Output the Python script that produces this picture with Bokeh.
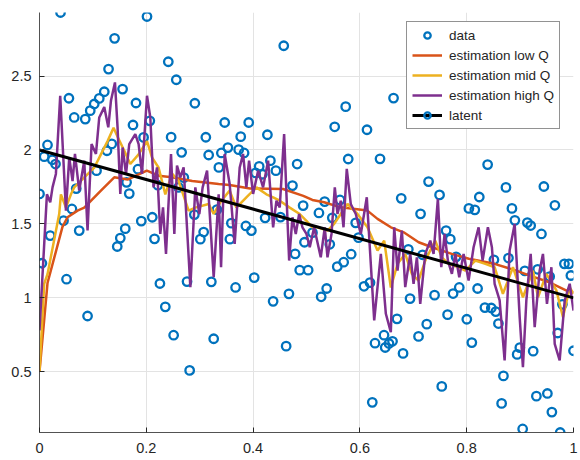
from bokeh.plotting import figure
from bokeh.models import Range1d, FixedTicker, Legend, LegendItem
from bokeh.embed import file_html
from bokeh.resources import INLINE

# ---------------- data ----------------
data_x = [
    0.000, 0.0045, 0.0088, 0.015, 0.020, 0.024, 0.030, 0.0394, 0.045, 0.0506,
    0.0551, 0.0607, 0.065, 0.0688, 0.0744, 0.0857, 0.090, 0.095, 0.1025, 0.1068,
    0.1119, 0.1213, 0.1263, 0.1293, 0.1353, 0.1406, 0.1456, 0.1513, 0.1556, 0.1606,
    0.1631, 0.1681, 0.1751, 0.1807, 0.1844, 0.1906, 0.1949, 0.2013, 0.2066, 0.2112,
    0.2154, 0.2216, 0.2255, 0.2356, 0.2412, 0.2465, 0.2512, 0.2562, 0.2605, 0.2662,
    0.2703, 0.2763, 0.2812, 0.290, 0.2909, 0.3012, 0.3074, 0.3115, 0.3168, 0.3218,
    0.3262, 0.3322, 0.3359, 0.3406, 0.3468, 0.3528, 0.3565, 0.3593, 0.3672, 0.3730,
    0.3768, 0.3831, 0.3865, 0.3918, 0.3968, 0.4021, 0.4047, 0.4114, 0.4174, 0.4225,
    0.4268, 0.4324, 0.4375, 0.4427, 0.4512, 0.4574, 0.4619, 0.4671, 0.4737, 0.4787,
    0.4825, 0.4873, 0.4937, 0.4962, 0.5031, 0.5112, 0.5233, 0.5275, 0.5340, 0.5378,
    0.5436, 0.5483, 0.5528, 0.5576, 0.5627, 0.5696, 0.5734, 0.5781, 0.5837, 0.5921,
    0.5974, 0.6077, 0.6133, 0.6189, 0.6232, 0.6283, 0.6377, 0.6452, 0.6474, 0.6545,
    0.6611, 0.6630, 0.6695, 0.6774, 0.6808, 0.6907, 0.6939, 0.7098, 0.7136, 0.7173,
    0.7252, 0.7286, 0.7398, 0.7492, 0.7533, 0.7614, 0.7642, 0.7693, 0.7745, 0.7801,
    0.7861, 0.8002, 0.8041, 0.8096, 0.8152, 0.8204, 0.8236, 0.8341, 0.8392, 0.8461,
    0.8510, 0.8545, 0.8594, 0.8654, 0.8688, 0.8735, 0.8782, 0.8847, 0.8902, 0.8945,
    0.8995, 0.9048, 0.9089, 0.9136, 0.9198, 0.9245, 0.9305, 0.9329, 0.9400, 0.9445,
    0.9511, 0.9554, 0.9595, 0.9651, 0.9704, 0.9751, 0.9792, 0.9830, 0.9914, 0.9951,
    1.000,
]
data_y = [
    1.703, 1.234, 1.955, 2.034, 1.421, 1.934, 1.905, 2.930, 1.522, 1.126,
    2.350, 1.601, 2.220, 1.739, 1.455, 2.209, 0.877, 2.266, 2.311, 1.860,
    2.349, 2.394, 1.995, 2.547, 2.041, 2.755, 1.347, 1.404, 2.412, 1.468,
    1.781, 1.705, 2.169, 2.318, 1.870, 1.519, 2.085, 2.903, 2.197, 1.545,
    1.399, 1.762, 1.097, 0.939, 2.597, 2.087, 0.747, 2.475, 1.747, 1.984,
    1.813, 1.110, 0.509, 1.563, 2.316, 1.397, 1.445, 2.086, 1.966, 1.108,
    0.723, 1.597, 1.882, 1.980, 2.186, 2.016, 1.397, 1.505, 1.070, 2.002,
    2.090, 1.980, 1.486, 2.186, 1.455, 1.137, 1.845, 1.889, 1.836, 1.541,
    2.103, 1.928, 0.976, 1.860, 1.546, 2.705, 0.673, 1.027, 1.759, 1.297,
    1.905, 1.187, 1.624, 1.376, 1.187, 1.441, 1.574, 1.007, 1.651, 1.063,
    1.362, 1.541, 2.157, 1.211, 1.662, 1.241, 2.293, 1.939, 1.295, 1.507,
    1.407, 1.078, 2.137, 1.103, 0.293, 0.693, 1.940, 0.747, 0.664, 0.691,
    0.706, 2.351, 0.858, 1.673, 0.624, 1.328, 0.995, 0.739, 1.568, 1.291,
    0.822, 1.786, 1.018, 1.696, 0.401, 1.455, 0.886, 1.397, 1.029, 1.277,
    1.070, 0.855, 1.605, 0.697, 1.595, 1.063, 1.682, 0.934, 1.901, 0.931,
    1.257, 0.907, 0.826, 0.286, 0.472, 1.747, 1.269, 1.605, 1.524, 0.617,
    0.663, 0.113, 1.182, 1.509, 1.489, 0.639, 0.335, 1.193, 1.432, 1.753,
    0.353, 1.144, 0.227, 1.626, 0.762, 0.089, 0.956, 1.230, 1.230, 1.151,
    0.642,
]

low_x = [0.0, 0.015, 0.043, 0.0525, 0.0712, 0.0838, 0.115, 0.14, 0.165, 0.201,
         0.223, 0.248, 0.286, 0.3355, 0.356, 0.394, 0.456, 0.494, 0.511, 0.533,
         0.564, 0.614, 0.633, 0.658, 0.682, 0.710, 0.735, 0.772, 0.804, 0.852,
         0.893, 0.918, 0.955, 0.987, 1.0]
low_y = [0.5, 1.10, 1.48, 1.545, 1.59, 1.61, 1.725, 1.815, 1.80, 1.86,
         1.826, 1.815, 1.79, 1.77, 1.763, 1.74, 1.736, 1.69, 1.662, 1.646,
         1.612, 1.59, 1.534, 1.477, 1.443, 1.376, 1.342, 1.297, 1.264, 1.23,
         1.184, 1.15, 1.105, 1.049, 1.038]

mid_x = [0.0, 0.0088, 0.015, 0.0369, 0.0401, 0.0495, 0.0589, 0.065, 0.1025, 0.115,
         0.1275, 0.1387, 0.1462, 0.1588, 0.170, 0.1856, 0.2013, 0.2107, 0.2231, 0.2356,
         0.2482, 0.2605, 0.2793, 0.2918, 0.3168, 0.3262, 0.3406, 0.3561, 0.3687, 0.3874,
         0.4062, 0.4249, 0.4375, 0.4499, 0.4686, 0.4873, 0.4999, 0.5112, 0.5205, 0.5393,
         0.5518, 0.5642, 0.5768, 0.5955, 0.6142, 0.633, 0.6455, 0.6579, 0.6705, 0.6849,
         0.6973, 0.7098, 0.7224, 0.7411, 0.7535, 0.7661, 0.7848, 0.7974, 0.8161, 0.8349,
         0.8523, 0.8678, 0.8866, 0.9053, 0.9241, 0.9335, 0.9492, 0.968, 0.9803, 0.9929,
         1.0]
mid_y = [0.5, 1.095, 1.16, 1.567, 1.70, 1.61, 1.70, 1.747, 1.88, 1.97,
         2.06, 2.15, 2.09, 1.995, 1.905, 1.97, 2.06, 1.95, 1.88, 1.70,
         1.84, 1.79, 1.59, 1.61, 1.635, 1.567, 1.657, 1.725, 1.61, 1.68,
         1.747, 1.70, 1.68, 1.657, 1.61, 1.567, 1.52, 1.477, 1.477, 1.455,
         1.50, 1.567, 1.635, 1.567, 1.477, 1.32, 1.387, 1.07, 1.23, 1.297,
         1.162, 1.117, 1.252, 1.387, 1.274, 1.23, 1.207, 1.184, 1.252, 1.23,
         1.207, 1.027, 1.207, 1.004, 1.184, 1.004, 1.162, 1.05, 0.869, 1.07,
         1.027]

high_x = [0.0, 0.0139, 0.0201, 0.0244, 0.0307, 0.0388, 0.0495, 0.0557, 0.0619, 0.0664,
          0.0744, 0.0838, 0.090, 0.0975, 0.1057, 0.1119, 0.1213, 0.1288, 0.1338, 0.1413,
          0.1462, 0.1513, 0.1556, 0.162, 0.1681,
          0.1794, 0.1856, 0.1919, 0.2013, 0.2075, 0.2137, 0.2201, 0.2262, 0.2313, 0.2369,
          0.2463, 0.2525, 0.2575, 0.2637, 0.2699, 0.2825, 0.2918, 0.2993, 0.3055, 0.3138,
          0.3262, 0.3355,
          0.3400, 0.3468, 0.3561, 0.3655, 0.3749, 0.3812, 0.3874, 0.3925, 0.40, 0.4094,
          0.4187, 0.4281, 0.4375, 0.4437, 0.4499, 0.4581, 0.4624, 0.4675, 0.4737, 0.4799,
          0.4862, 0.4924, 0.4999, 0.5061,
          0.5143, 0.5267, 0.5342, 0.5393, 0.5468, 0.553, 0.558, 0.5642, 0.5693, 0.5754,
          0.5829, 0.5923, 0.6017, 0.6129, 0.6268, 0.6392, 0.6486, 0.6579, 0.6643, 0.6705,
          0.6786,
          0.6849, 0.6943, 0.7005, 0.7067, 0.7130, 0.7224, 0.7318, 0.738, 0.746, 0.7524,
          0.7586, 0.7648, 0.7723, 0.7786, 0.7861, 0.7942, 0.8036, 0.8129, 0.8223, 0.8298,
          0.8397, 0.8472,
          0.8523, 0.8617, 0.871, 0.8804, 0.8898, 0.8992, 0.9053, 0.9117, 0.9198, 0.9273,
          0.9366, 0.9428, 0.9503, 0.9586, 0.9648, 0.9741, 0.9835, 0.9929, 1.0]
high_y = [0.78, 1.70, 1.646, 1.747, 1.838, 2.367, 1.59, 1.95, 1.79, 1.973,
          1.725, 1.928, 1.455, 2.04, 1.973, 2.22, 2.29, 2.153, 2.333, 2.457,
          2.153, 1.703, 2.017, 1.838, 2.04,
          2.108, 2.04, 1.838, 2.367, 2.22, 1.747, 1.882, 1.432, 1.612, 1.297,
          1.973, 1.432, 1.894, 1.815, 1.882, 1.072, 1.747, 1.567, 1.747, 1.86,
          1.139, 1.70,
          1.207, 1.973, 1.77, 1.365, 1.882, 1.973, 1.747, 1.928, 1.703, 1.86,
          1.747, 1.928, 1.477, 1.657, 1.612, 2.108, 1.703, 1.252, 1.545, 1.432,
          1.567, 1.477, 1.432, 1.342,
          1.477, 1.274, 1.477, 1.274, 1.432, 1.747, 1.567, 1.657, 1.477, 1.872,
          1.635, 1.567, 1.432, 1.68, 0.847, 1.297, 0.892, 0.768, 1.477, 1.184,
          1.455,
          1.072, 1.297, 1.095, 1.274, 0.959, 1.297, 1.387, 1.297, 1.669, 1.207,
          1.432, 1.252, 1.162, 1.297, 1.139, 1.297, 1.117, 1.342, 1.477, 1.252,
          1.477, 1.342,
          1.095, 0.982, 0.576, 1.32, 1.50, 0.869, 0.531, 0.982, 1.297, 0.801,
          1.184, 1.297, 0.959, 1.207, 0.689, 0.576, 0.982, 1.095, 0.914]

latent_x = [0.0, 1.0]
latent_y = [2.0, 1.0]

x_ticks = [0, 0.2, 0.4, 0.6, 0.8, 1.0]
x_tick_labels = ["0", "0.2", "0.4", "0.6", "0.8", "1"]
y_ticks = [0.5, 1.0, 1.5, 2.0, 2.5]
y_tick_labels = ["0.5", "1", "1.5", "2", "2.5"]

labels = ["data", "estimation low Q", "estimation mid Q", "estimation high Q", "latent"]

# ---------------- figure ----------------
TXT = "#262626"
FONT = "Liberation Sans"

p = figure(width=580, height=460, output_backend="svg", toolbar_location=None,
           x_range=Range1d(0, 1), y_range=Range1d(min(data_y), max(data_y)),
           min_border_left=39, min_border_right=7, min_border_top=12, min_border_bottom=28)
p.outline_line_color = None
p.background_fill_color = "white"
p.border_fill_color = "white"

for ax in (p.xaxis[0], p.yaxis[0]):
    ax.axis_line_color = TXT
    ax.axis_line_width = 0.8
    ax.major_tick_line_color = TXT
    ax.major_tick_in = 5
    ax.major_tick_out = 0
    ax.minor_tick_line_color = None
    ax.major_label_text_font = FONT
    ax.major_label_text_font_size = "14.5px"
    ax.major_label_text_color = TXT

p.xaxis.ticker = FixedTicker(ticks=x_ticks)
p.yaxis.ticker = FixedTicker(ticks=y_ticks)
p.xaxis.major_label_overrides = {t: l for t, l in zip(x_ticks, x_tick_labels)}
p.yaxis.major_label_overrides = {t: l for t, l in zip(y_ticks, y_tick_labels)}
p.xaxis.major_label_standoff = 10
p.yaxis.major_label_standoff = 8

p.xgrid.ticker = FixedTicker(ticks=x_ticks)
p.ygrid.ticker = FixedTicker(ticks=y_ticks)
for g in (p.xgrid[0], p.ygrid[0]):
    g.grid_line_color = "#e3e3e3"
    g.grid_line_width = 1

r_data = p.scatter(data_x, data_y, marker="circle", size=8.5, fill_color=None,
                   line_color="#0072BD", line_width=2.3)
r_low = p.line(low_x, low_y, line_color="#D95319", line_width=2.5)
r_mid = p.line(mid_x, mid_y, line_color="#EDB120", line_width=2.5)
r_high = p.line(high_x, high_y, line_color="#7E2F8E", line_width=2.5)
r_lat = p.line(latent_x, latent_y, line_color="black", line_width=3)

legend = Legend(items=[
    LegendItem(label=labels[0], renderers=[r_data]),
    LegendItem(label=labels[1], renderers=[r_low]),
    LegendItem(label=labels[2], renderers=[r_mid]),
    LegendItem(label=labels[3], renderers=[r_high]),
    LegendItem(label=labels[4], renderers=[r_lat, r_data]),
], location=(367, 303))
legend.border_line_color = TXT
legend.border_line_width = 0.8
legend.background_fill_alpha = 1
legend.padding = 5
legend.spacing = 4
legend.margin = 0
legend.glyph_width = 30
legend.glyph_height = 16
legend.label_height = 16
legend.label_standoff = 7
legend.label_text_font = FONT
legend.label_text_font_size = "13.5px"
legend.label_text_color = TXT
p.add_layout(legend)

open("out.html", "w").write(file_html(p, INLINE))
